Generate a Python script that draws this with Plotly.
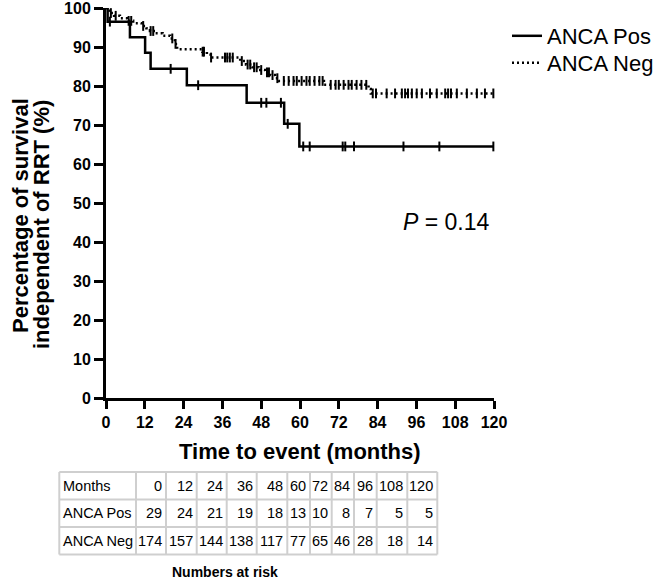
import numpy as np
import plotly.graph_objects as go

W, H = 664, 581


def px(x):
    return x / W


def py(y):
    return 1 - y / H


# ---------------- data ----------------
month_ticks = [0, 12, 24, 36, 48, 60, 72, 84, 96, 108, 120]
pct_ticks = [0, 10, 20, 30, 40, 50, 60, 70, 80, 90, 100]
follow_up_end = 120

# ANCA Pos: step times (months) and survival after each step (%)
pos_event_t = [0, 0.5, 7.4, 12.1, 13.8, 25.0, 43.5, 55.1, 59.8]
pos_surv = [100, 96.5, 92.5, 88.5, 84.4, 80.2, 75.7, 70.3, 64.5]
pos_censor_t = [1.2, 20, 28.5, 48, 49.6, 54.1, 56.2, 61, 63, 73.2, 74, 76.7, 92, 103.1, 119.8]

# ANCA Neg
neg_event_t = [0, 0.5, 1.2, 2.5, 4.3, 6.5, 8.4, 11, 12.5, 13.6, 15.2, 17.5, 19.8, 21.3, 22,
               29.8, 31.2, 32.3, 41.5, 43.3, 45.3, 47.2, 49.2, 50.8, 52.3, 53.4, 67.4, 81.2, 81.9]
neg_surv = [100, 99.3, 98.7, 98.0, 97.4, 96.7, 96.1, 95.4, 94.8, 94.1, 93.5, 92.9, 92.2, 90.8, 89.4,
            88.8, 88.1, 87.3, 86.4, 85.5, 84.8, 84.1, 83.5, 82.8, 82.0, 81.3, 80.3, 79.2, 78.1]
neg_censor_t = [1.5, 3, 7, 7.8, 11.5, 13.8, 14.6, 20.5, 21.5, 29.9, 30.3, 32.5, 36.8, 37.5, 38.3,
                39.2, 42, 43.8, 44.6, 45.8, 46.6, 48, 49.8, 50.4, 51.5, 53, 55, 56.5, 58, 59, 60.5,
                62, 63, 64.5, 66, 67, 69.5, 71, 72, 73.5, 75, 76, 77.5, 79, 80.5, 82.5, 83.5, 86.8,
                89.4, 91.5, 92.5, 93.4, 94.6, 96.1, 97.7, 100.2, 102.3, 104.9, 105.8, 106.7, 108.5,
                111.6, 114.7, 117.2, 119.8]

# numbers at risk table
row_labels = ["Months", "ANCA Pos", "ANCA Neg"]
risk_months = [0, 12, 24, 36, 48, 60, 72, 84, 96, 108, 120]
risk_pos = [29, 24, 21, 19, 18, 13, 10, 8, 7, 5, 5]
risk_neg = [174, 157, 144, 138, 117, 77, 65, 46, 28, 18, 14]


def step_at(times, surv, t):
    idx = np.searchsorted(np.asarray(times), np.asarray(t), side="right") - 1
    return np.asarray(surv)[idx]


fig = go.Figure()

series = [
    ("ANCA Pos", pos_event_t, pos_surv, pos_censor_t, "solid", "legend"),
    ("ANCA Neg", neg_event_t, neg_surv, neg_censor_t, "2px,3px", "legend2"),
]
for name, et, sv, ct, dash, lg in series:
    fig.add_trace(go.Scatter(
        x=list(et) + [follow_up_end], y=list(sv) + [sv[-1]],
        mode="lines", line=dict(shape="hv", color="black", width=2.5, dash=dash),
        name=name, showlegend=True, legend=lg,
    ))
    fig.add_trace(go.Scatter(
        x=ct, y=step_at(et, sv, ct), mode="markers",
        marker=dict(symbol="line-ns", size=7, line=dict(color="black", width=2)),
        showlegend=False, hoverinfo="skip", cliponaxis=False,
    ))

axis_font = dict(family="Liberation Sans, Arial, sans-serif", size=16, color="black", weight="bold")

fig.update_xaxes(
    domain=[px(106), px(494)], range=[0, 120], tickvals=month_ticks, automargin=False,
    showline=True, linecolor="black", linewidth=3, ticks="outside", ticklen=8,
    tickwidth=3, tickcolor="black", showgrid=False, zeroline=False, tickfont=axis_font,
    ticklabeloverflow="allow",
)
fig.update_yaxes(
    domain=[py(398), py(8)], range=[0, 100], tickvals=pct_ticks, automargin=False,
    showline=True, linecolor="black", linewidth=3, ticks="outside", ticklen=9,
    tickwidth=3, tickcolor="black", showgrid=False, zeroline=False, tickfont=axis_font,
    ticklabeloverflow="allow",
)

annotations = []
title_font = dict(family="Liberation Sans, Arial, sans-serif", size=22, color="black", weight="bold")
annotations.append(dict(text="Time to event (months)", x=px(300), y=py(451), xref="paper", yref="paper",
                        showarrow=False, font=title_font, xanchor="center", yanchor="middle"))
annotations.append(dict(text="Percentage of survival", x=px(20), y=py(216), xref="paper", yref="paper",
                        showarrow=False, font=title_font, textangle=-90, xanchor="center", yanchor="middle"))
annotations.append(dict(text="independent of RRT (%)", x=px(41), y=py(225), xref="paper", yref="paper",
                        showarrow=False, font=title_font, textangle=-90, xanchor="center", yanchor="middle"))
annotations.append(dict(text="<i>P</i> = 0.14", x=px(446), y=py(222), xref="paper", yref="paper",
                        showarrow=False, font=dict(family="Liberation Sans, Arial, sans-serif", size=23,
                                                   color="black"),
                        xanchor="center", yanchor="middle"))

# table geometry (pixels)
col_edges = [59.3, 136, 166, 196.7, 226.7, 256.7, 287.3, 310, 331.7, 354, 376.7, 407.3, 437.3]
row_edges = [472, 499.5, 527, 554.5]
shapes = []
grid = dict(color="#cfcfcf", width=2)
for ry in row_edges:
    shapes.append(dict(type="line", xref="paper", yref="paper", x0=px(col_edges[0]), x1=px(col_edges[-1]),
                       y0=py(ry), y1=py(ry), line=grid))
for cx in col_edges:
    shapes.append(dict(type="line", xref="paper", yref="paper", x0=px(cx), x1=px(cx),
                       y0=py(row_edges[0]), y1=py(row_edges[-1]), line=grid))

table_font = dict(family="Liberation Sans, Arial, sans-serif", size=14.5, color="black")
rows = [risk_months, risk_pos, risk_neg]
for r, (label, vals) in enumerate(zip(row_labels, rows)):
    yc = (row_edges[r] + row_edges[r + 1]) / 2
    annotations.append(dict(text=label, x=px(col_edges[0] + 2), y=py(yc), xref="paper", yref="paper",
                            showarrow=False, font=table_font, xanchor="left", yanchor="middle"))
    for c, v in enumerate(vals):
        annotations.append(dict(text=str(v), x=px(col_edges[c + 2] - 2), y=py(yc), xref="paper",
                                yref="paper", showarrow=False, font=table_font, xanchor="right",
                                yanchor="middle"))

annotations.append(dict(text="Numbers at risk", x=px(225), y=py(572), xref="paper", yref="paper",
                        showarrow=False,
                        font=dict(family="Liberation Sans, Arial, sans-serif",
                                  size=14, color="black", weight="bold"),
                        xanchor="center", yanchor="middle"))

legend_font = dict(family="Liberation Sans, Arial, sans-serif", size=22, color="black")
fig.update_layout(
    width=W, height=H, autosize=False,
    margin=dict(l=0, r=0, t=0, b=0, autoexpand=False),
    paper_bgcolor="white", plot_bgcolor="white",
    showlegend=True,
    legend=dict(x=px(507), y=py(36), xanchor="left", yanchor="middle", font=legend_font,
                bgcolor="rgba(0,0,0,0)"),
    legend2=dict(x=px(507), y=py(63), xanchor="left", yanchor="middle", font=legend_font,
                 bgcolor="rgba(0,0,0,0)"),
    annotations=annotations, shapes=shapes,
)

fig.write_html("out.html", config={"displayModeBar": False},
               post_script="document.body.style.margin='0px';")
